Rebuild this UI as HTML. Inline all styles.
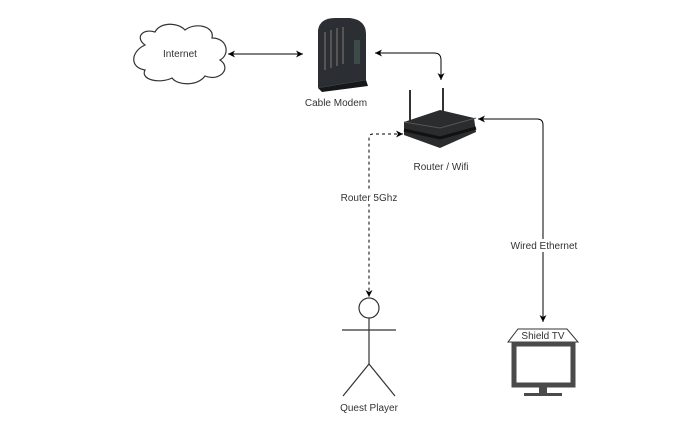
<!DOCTYPE html>
<html><head><style>body{margin:0;background:#fff}svg{display:block}text{font-family:"Liberation Sans",sans-serif;font-size:10px;fill:#333}</style></head><body>
<svg width="693" height="429" viewBox="0 0 693 429">
<defs><marker id="a" markerWidth="8" markerHeight="8" refX="7" refY="4" orient="auto" markerUnits="userSpaceOnUse"><path d="M0,0.5L7,4L0,7.5L2,4Z" fill="#000"/></marker>
<marker id="b" markerWidth="8" markerHeight="8" refX="1" refY="4" orient="auto" markerUnits="userSpaceOnUse"><path d="M8,0.5L1,4L8,7.5L6,4Z" fill="#000"/></marker></defs>
<!-- cloud -->
<path d="M145,45 C135,38 142,28 155,32 C160,22 178,22 185,30 C195,22 215,26 212,38 C228,38 230,55 220,60 C232,68 220,82 205,76 C198,86 178,86 172,78 C160,84 140,80 145,70 C130,68 130,52 145,45 Z" fill="#fff" stroke="#333" stroke-width="1.2"/>
<text x="180" y="57" text-anchor="middle">Internet</text>
<line x1="228" y1="54" x2="303" y2="54" stroke="#000" marker-start="url(#b)" marker-end="url(#a)"/>
<!-- modem -->
<path d="M318,88 L318,30 Q320,18 335,18 L350,18 Q366,20 366,34 L366,80 Z" fill="#2b2f33"/>
<path d="M318,88 L366,80 L368,86 L322,92 Z" fill="#151719"/>
<g stroke="#555" stroke-width="2"><line x1="325" y1="32" x2="325" y2="70"/><line x1="331" y1="30" x2="331" y2="68"/><line x1="337" y1="28" x2="337" y2="66"/><line x1="343" y1="27" x2="343" y2="64"/></g>
<rect x="354" y="40" width="6" height="24" fill="#3c4a48"/>
<text x="336" y="106" text-anchor="middle">Cable Modem</text>
<path d="M375,53 L434,53 Q441,53 441,60 L441,80" fill="none" stroke="#000" marker-start="url(#b)" marker-end="url(#a)"/>
<!-- router -->
<line x1="410" y1="90" x2="410" y2="124" stroke="#333" stroke-width="2"/>
<line x1="443" y1="88" x2="443" y2="114" stroke="#333" stroke-width="2"/>
<path d="M404,122 L440,110 L474,118 L476,132 L440,148 L404,135 Z" fill="#2a2c2e"/>
<path d="M404,122 L440,128 L476,118" fill="none" stroke="#555"/>
<path d="M404,130 L440,138 L476,128" fill="none" stroke="#111" stroke-width="3"/>
<text x="441" y="170" text-anchor="middle">Router / Wifi</text>
<path d="M403,134 L373,134 Q369,134 369,138 L369,297" fill="none" stroke="#000" stroke-dasharray="3,3" marker-start="url(#b)" marker-end="url(#a)"/>
<rect x="336" y="190" width="66" height="14" fill="#fff"/>
<text x="369" y="201" text-anchor="middle">Router 5Ghz</text>
<path d="M478,119 L537,119 Q543,119 543,125 L543,322" fill="none" stroke="#000" marker-start="url(#b)" marker-end="url(#a)"/>
<rect x="506" y="239" width="74" height="13" fill="#fff"/>
<text x="544" y="249" text-anchor="middle">Wired Ethernet</text>
<!-- actor -->
<g stroke="#333" stroke-width="1.2" fill="#fff"><circle cx="369" cy="308" r="10"/><line x1="342" y1="330" x2="396" y2="330"/><line x1="369" y1="318" x2="369" y2="364"/><line x1="369" y1="364" x2="343" y2="396"/><line x1="369" y1="364" x2="395" y2="396"/></g>
<text x="369" y="411" text-anchor="middle">Quest Player</text>
<!-- TV -->
<path d="M508,342 L518,329 L567,329 L578,342 Z" fill="#fff" stroke="#333"/>
<text x="543" y="339" text-anchor="middle">Shield TV</text>
<rect x="514" y="344" width="59" height="41" fill="#fff" stroke="#4a4a4a" stroke-width="5"/>
<rect x="539" y="387" width="8" height="6" fill="#4a4a4a"/>
<rect x="524" y="393" width="38" height="3" fill="#4a4a4a"/>
</svg></body></html>
